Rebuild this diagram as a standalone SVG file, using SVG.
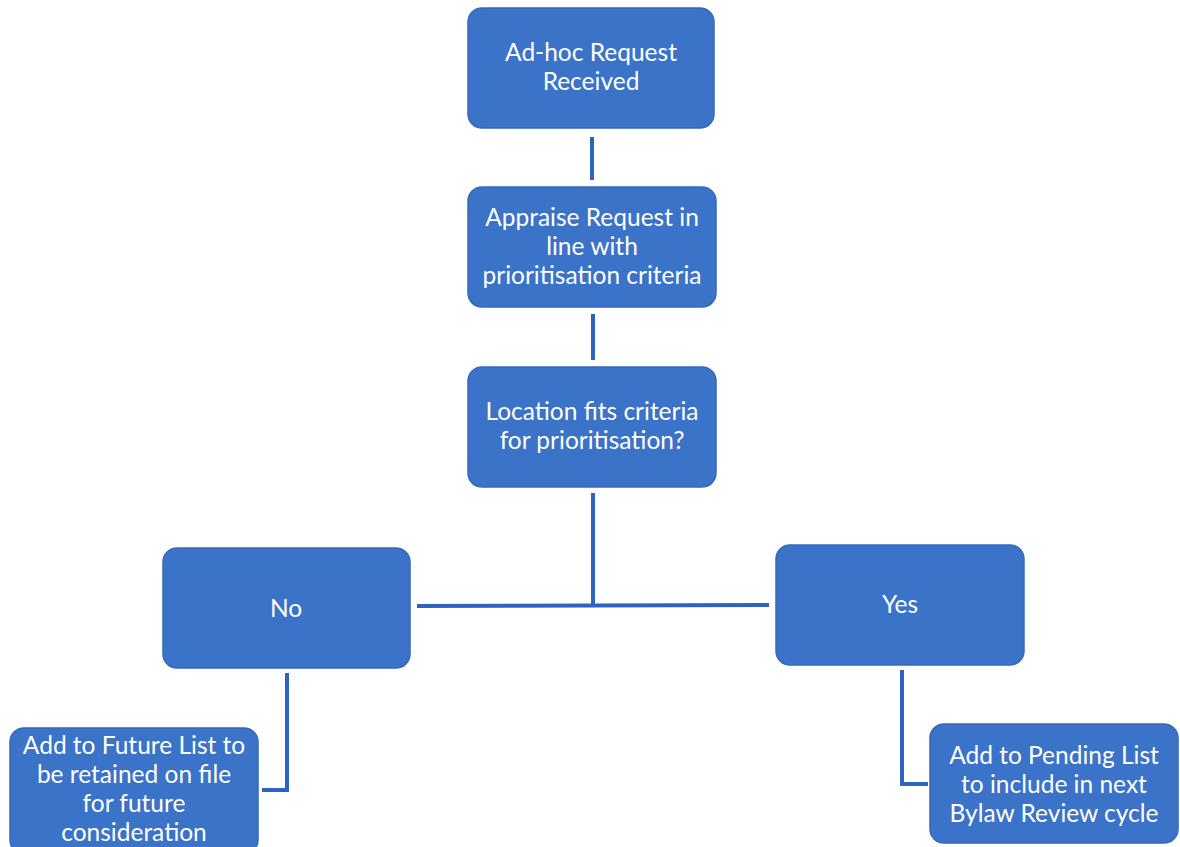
<svg xmlns="http://www.w3.org/2000/svg" width="1180" height="847" viewBox="0 0 1180 847">
<style>
.box{fill:#3b73c9;stroke:#3568be;stroke-width:1.5}
.t{font-family:Lato,"Open Sans","Liberation Sans",sans-serif;font-size:24.5px;fill:#ffffff;text-anchor:middle}
.c{stroke:#2c62c0;stroke-width:4;fill:none}
</style>
<rect width="1180" height="847" fill="#ffffff"/>
<g id="connectors">
<line class="c" x1="592" y1="137" x2="592" y2="180"/>
<line class="c" x1="593" y1="314" x2="593" y2="360"/>
<line class="c" x1="593" y1="493" x2="593" y2="606"/>
<line class="c" x1="417" y1="606" x2="769" y2="605"/>
<polyline class="c" points="287,673 287,790 262,790"/>
<polyline class="c" points="902,670 902,784 928,784"/>
</g>
<g id="n1"><rect class="box" x="468" y="8" width="246" height="120" rx="14"/>
<text class="t" x="591" y="61">Ad-hoc Request</text><text class="t" x="591" y="90">Received</text></g>
<g id="n2"><rect class="box" x="468" y="187" width="248" height="120" rx="14"/>
<text class="t" x="592" y="226">Appraise Request in</text><text class="t" x="592" y="255">line with</text><text class="t" x="592" y="284">prioritisation criteria</text></g>
<g id="n3"><rect class="box" x="468" y="367" width="248" height="120" rx="14"/>
<text class="t" x="592" y="420">Location fits criteria</text><text class="t" x="592" y="449">for prioritisation?</text></g>
<g id="n4"><rect class="box" x="163" y="548" width="247" height="120" rx="14"/>
<text class="t" x="286" y="617">No</text></g>
<g id="n5"><rect class="box" x="776" y="545" width="248" height="120" rx="14"/>
<text class="t" x="900" y="613">Yes</text></g>
<g id="n6"><rect class="box" x="10" y="728" width="248" height="126" rx="14"/>
<text class="t" x="134" y="754">Add to Future List to</text><text class="t" x="134" y="783">be retained on file</text><text class="t" x="134" y="812">for future</text><text class="t" x="134" y="841">consideration</text></g>
<g id="n7"><rect class="box" x="930" y="724" width="248" height="119" rx="14"/>
<text class="t" x="1054" y="764">Add to Pending List</text><text class="t" x="1054" y="793">to include in next</text><text class="t" x="1054" y="822">Bylaw Review cycle</text></g>
</svg>
